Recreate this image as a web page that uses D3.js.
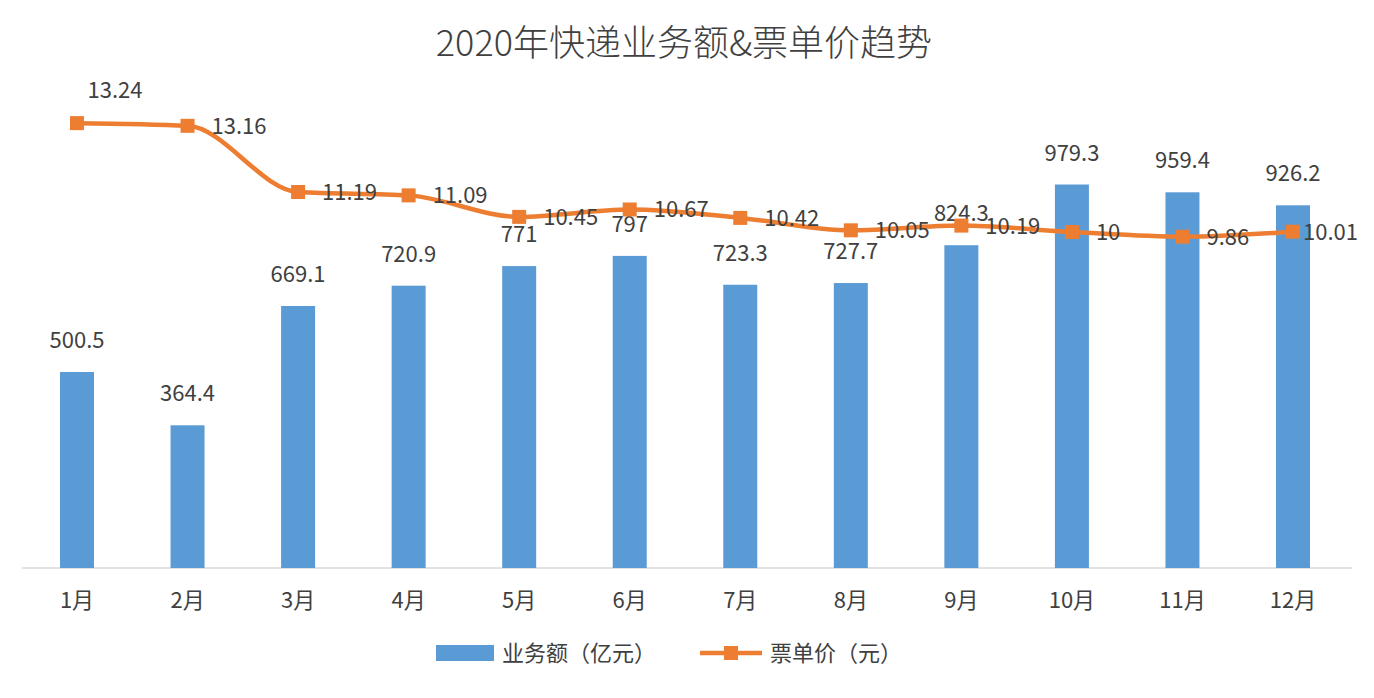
<!DOCTYPE html>
<html><head><meta charset="utf-8">
<script src="https://cdn.jsdelivr.net/npm/d3@7"></script>
<style>body{margin:0;background:#fff;font-family:"Noto Sans CJK SC","Noto Sans",sans-serif;}</style>
</head><body><svg id="c" width="1374" height="698"></svg>
<script>
const months = ['1月','2月','3月','4月','5月','6月','7月','8月','9月','10月','11月','12月'];
const volume = [500.5,364.4,669.1,720.9,771,797,723.3,727.7,824.3,979.3,959.4,926.2];
const price = [13.24,13.16,11.19,11.09,10.45,10.67,10.42,10.05,10.19,10,9.86,10.01];
const priceLabels = ['13.24','13.16','11.19','11.09','10.45','10.67','10.42','10.05','10.19','10','9.86','10.01'];

const svg = d3.select('#c');
const base = 568;
const barW = 34;
const x = d3.scalePoint().domain(months).range([77, 1293]);
const yBar = d3.scaleLinear().domain([0, 1000]).range([base, base - 391.6]);
const yLine = d3.scaleLinear().domain([0, 14]).range([base, base - 14 * 33.6]);
const blue = '#5b9bd5', orange = '#ed7d31', txt = '#404040';

svg.append('text').attr('x', 684).attr('y', 56).attr('text-anchor', 'middle')
  .attr('font-size', 36).attr('font-weight', 300).attr('fill', txt).text('2020年快递业务额&票单价趋势');

svg.append('line').attr('x1', 22).attr('x2', 1352).attr('y1', base).attr('y2', base)
  .attr('stroke', '#d9d9d9').attr('stroke-width', 1.5);

svg.selectAll('rect.bar').data(volume).enter().append('rect').attr('class', 'bar')
  .attr('x', (d, i) => x(months[i]) - barW / 2).attr('width', barW)
  .attr('y', d => yBar(d)).attr('height', d => base - yBar(d)).attr('fill', blue);

svg.selectAll('text.vl').data(volume).enter().append('text').attr('class', 'vl')
  .attr('x', (d, i) => x(months[i])).attr('y', d => yBar(d) - 24)
  .attr('text-anchor', 'middle').attr('font-size', 22).attr('fill', txt).text(d => d);

svg.append('path').datum(price)
  .attr('d', d3.line().x((d, i) => x(months[i])).y(d => yLine(d)).curve(d3.curveMonotoneX))
  .attr('fill', 'none').attr('stroke', orange).attr('stroke-width', 4.5);

svg.selectAll('rect.mk').data(price).enter().append('rect').attr('class', 'mk')
  .attr('x', (d, i) => x(months[i]) - 7).attr('y', d => yLine(d) - 7)
  .attr('width', 14).attr('height', 14).attr('fill', orange);

svg.selectAll('text.pl').data(price).enter().append('text').attr('class', 'pl')
  .attr('x', (d, i) => i === 0 ? x(months[i]) + 38 : x(months[i]) + (i === 11 ? 10 : 24))
  .attr('y', (d, i) => i === 0 ? yLine(d) - 25 : yLine(d) + 8)
  .attr('text-anchor', (d, i) => i === 0 ? 'middle' : 'start')
  .attr('font-size', 22).attr('fill', txt).text((d, i) => priceLabels[i]);

svg.selectAll('text.xl').data(months).enter().append('text').attr('class', 'xl')
  .attr('x', d => x(d)).attr('y', 608).attr('text-anchor', 'middle')
  .attr('font-size', 22).attr('fill', txt).text(d => d);

const lg = svg.append('g');
lg.append('rect').attr('x', 436).attr('y', 645).attr('width', 58).attr('height', 16).attr('fill', blue);
lg.append('text').attr('x', 502).attr('y', 661).attr('font-size', 22).attr('fill', txt).text('业务额（亿元）');
lg.append('line').attr('x1', 700).attr('x2', 762).attr('y1', 653).attr('y2', 653).attr('stroke', orange).attr('stroke-width', 4.5);
lg.append('rect').attr('x', 724).attr('y', 646).attr('width', 14).attr('height', 14).attr('fill', orange);
lg.append('text').attr('x', 770).attr('y', 661).attr('font-size', 22).attr('fill', txt).text('票单价（元）');
</script></body></html>
